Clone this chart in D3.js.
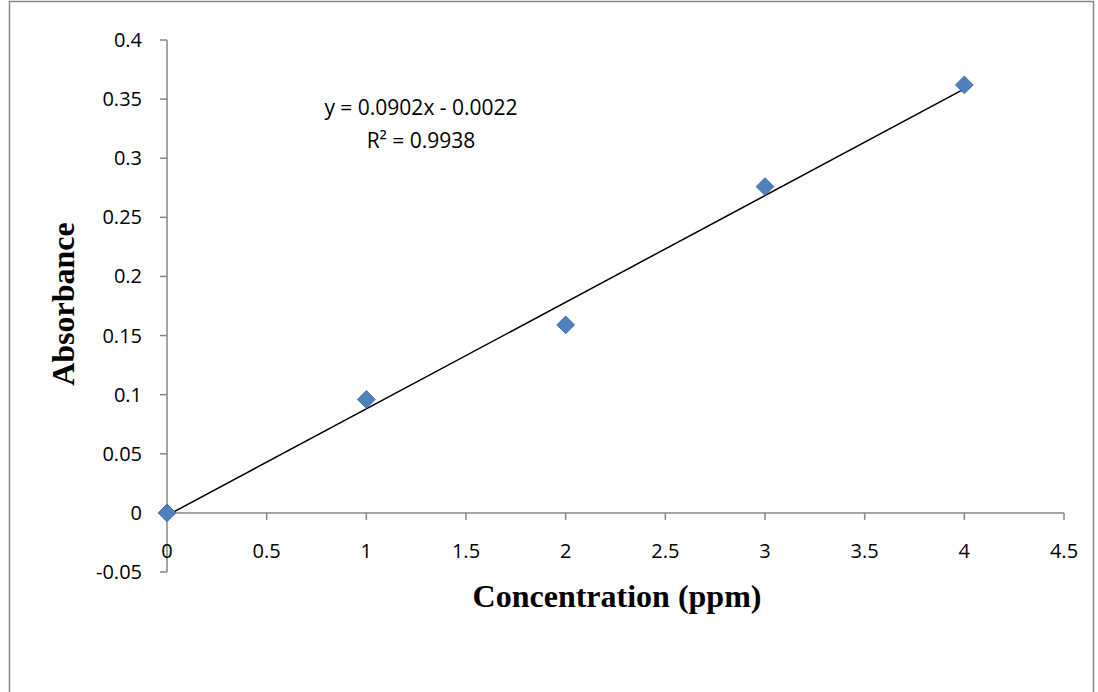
<!DOCTYPE html>
<html><head><meta charset="utf-8">
<script src="https://cdn.jsdelivr.net/npm/d3@7"></script>
<style>body{margin:0;background:#fff}text{font-family:"Open Sans",sans-serif}</style>
</head><body><svg width="1098" height="692"></svg>
<script>
var concentration = [0, 1, 2, 3, 4];
var absorbance = [0, 0.096, 0.159, 0.276, 0.362];
var xTicks = [0, 0.5, 1, 1.5, 2, 2.5, 3, 3.5, 4, 4.5];
var yTicks = [-0.05, 0, 0.05, 0.1, 0.15, 0.2, 0.25, 0.3, 0.35, 0.4];
var slope = 0.0902, intercept = -0.0022;

var svg = d3.select("svg");
var x = d3.scaleLinear().domain([0, 4.5]).range([167, 1064]);
var y = d3.scaleLinear().domain([-0.05, 0.4]).range([572, 40]);
var grey = "#868686";

svg.append("rect").attr("x", 9.5).attr("y", 1.5).attr("width", 1084).attr("height", 720)
    .attr("fill", "none").attr("stroke", grey).attr("stroke-width", 1.5);

// y axis
svg.append("line").attr("x1", x(0)).attr("x2", x(0)).attr("y1", y(0.4)).attr("y2", y(-0.05))
    .attr("stroke", grey).attr("stroke-width", 1.5);
svg.selectAll(".yt").data(yTicks).enter().append("line")
    .attr("x1", x(0) - 7).attr("x2", x(0)).attr("y1", d => y(d)).attr("y2", d => y(d))
    .attr("stroke", grey).attr("stroke-width", 1.5);
svg.selectAll(".yl").data(yTicks).enter().append("text")
    .attr("x", x(0) - 25).attr("y", d => y(d) + 7).attr("text-anchor", "end")
    .attr("font-size", 20).text(d => d);

// x axis
svg.append("line").attr("x1", x(0)).attr("x2", x(4.5)).attr("y1", y(0)).attr("y2", y(0))
    .attr("stroke", grey).attr("stroke-width", 1.5);
svg.selectAll(".xt").data(xTicks).enter().append("line")
    .attr("x1", d => x(d)).attr("x2", d => x(d)).attr("y1", y(0)).attr("y2", y(0) + 7)
    .attr("stroke", grey).attr("stroke-width", 1.5);
svg.selectAll(".xl").data(xTicks).enter().append("text")
    .attr("x", d => x(d)).attr("y", y(0) + 45).attr("text-anchor", "middle")
    .attr("font-size", 20).text(d => d);

// trendline
svg.append("line").attr("x1", x(0)).attr("y1", y(intercept))
    .attr("x2", x(4)).attr("y2", y(slope * 4 + intercept))
    .attr("stroke", "#000").attr("stroke-width", 1.5);

// points
svg.selectAll(".pt").data(concentration).enter().append("path")
    .attr("d", d3.symbol(d3.symbolDiamond2, 200))
    .attr("transform", (d, i) => "translate(" + x(d) + "," + y(absorbance[i]) + ")")
    .attr("fill", "#4f81bd").attr("stroke", "#3f6fa8").attr("stroke-width", 1);

svg.append("text").attr("x", 421).attr("y", 115).attr("text-anchor", "middle")
    .attr("font-size", 21).text("y = 0.0902x - 0.0022");
svg.append("text").attr("x", 421).attr("y", 148).attr("text-anchor", "middle")
    .attr("font-size", 21).text("R² = 0.9938");

svg.append("text").attr("x", 617).attr("y", 607).attr("text-anchor", "middle")
    .style("font-family", "'Liberation Serif', serif").attr("font-weight", "bold").attr("font-size", 32)
    .text("Concentration (ppm)");
svg.append("text").attr("transform", "translate(74,304) rotate(-90)").attr("text-anchor", "middle")
    .style("font-family", "'Liberation Serif', serif").attr("font-weight", "bold").attr("font-size", 32)
    .text("Absorbance");
</script></body></html>
